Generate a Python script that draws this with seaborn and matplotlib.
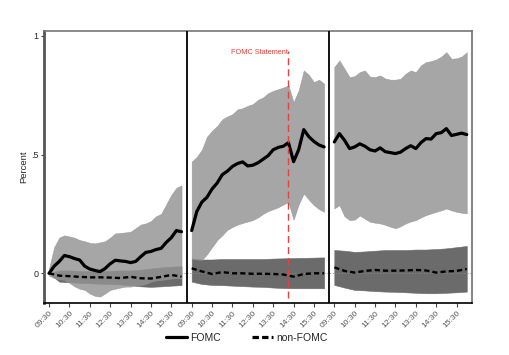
import numpy as np
import pandas as pd
import matplotlib
matplotlib.use("Agg")
import matplotlib.pyplot as plt
import seaborn as sns
from matplotlib.lines import Line2D

# ---------------- data ----------------
# hours after 09:30 within each trading day
t_q = [0, 0.25, 0.5, 0.75, 1.0, 1.25, 1.5, 1.75, 2.0, 2.25, 2.5, 2.75, 3.0, 3.25,
       3.5, 3.75, 4.0, 4.25, 4.5, 4.75, 5.0, 5.25, 5.5, 5.75, 6.0, 6.25, 6.5]
t_h = [0, 0.5, 1.0, 1.5, 2.0, 2.5, 3.0, 3.5, 4.0, 4.5, 5.0, 5.5, 6.0, 6.5]
tick_labels = ["09:30", "10:30", "11:30", "12:30", "13:30", "14:30", "15:30"]
day_offsets = [0, 7, 14]
fomc_release = 11.75  # day 2, 14:15

# FOMC days (day -1, day 0, day +1)
fomc_mean_d1 = [0.0, 0.03, 0.05, 0.075, 0.07, 0.062, 0.056, 0.03, 0.018, 0.012, 0.007, 0.02, 0.04, 0.055,
                0.052, 0.05, 0.045, 0.05, 0.07, 0.088, 0.092, 0.1, 0.105, 0.13, 0.15, 0.18, 0.175]
fomc_hi_d1 = [0.02, 0.11, 0.15, 0.16, 0.155, 0.15, 0.14, 0.135, 0.128, 0.126, 0.13, 0.135, 0.15, 0.168,
              0.17, 0.172, 0.175, 0.19, 0.205, 0.21, 0.22, 0.24, 0.25, 0.29, 0.33, 0.36, 0.37]
fomc_lo_d1 = [-0.01, -0.02, -0.025, -0.028, -0.04, -0.055, -0.065, -0.07, -0.085, -0.095, -0.098, -0.085, -0.07, -0.065,
              -0.06, -0.056, -0.056, -0.05, -0.049, -0.045, -0.035, -0.03, -0.028, -0.025, -0.022, -0.02, -0.021]

fomc_mean_d2 = [0.18, 0.26, 0.30, 0.32, 0.355, 0.38, 0.415, 0.43, 0.45, 0.462, 0.469, 0.452, 0.455, 0.465,
                0.48, 0.495, 0.52, 0.53, 0.535, 0.55, 0.47, 0.52, 0.605, 0.575, 0.555, 0.54, 0.532]
fomc_hi_d2 = [0.47, 0.49, 0.52, 0.575, 0.60, 0.62, 0.648, 0.66, 0.67, 0.69, 0.695, 0.705, 0.712, 0.73,
              0.74, 0.758, 0.768, 0.775, 0.782, 0.791, 0.72, 0.77, 0.854, 0.835, 0.805, 0.815, 0.798]
fomc_lo_d2 = [0.06, 0.058, 0.056, 0.08, 0.11, 0.14, 0.16, 0.183, 0.195, 0.205, 0.212, 0.218, 0.224, 0.235,
              0.25, 0.262, 0.27, 0.278, 0.29, 0.30, 0.225, 0.29, 0.336, 0.31, 0.287, 0.27, 0.259]

fomc_mean_d3 = [0.553, 0.588, 0.56, 0.525, 0.532, 0.545, 0.535, 0.52, 0.515, 0.528, 0.512, 0.508, 0.504, 0.51,
                0.525, 0.537, 0.525, 0.55, 0.567, 0.565, 0.588, 0.592, 0.609, 0.58, 0.585, 0.59, 0.584]
fomc_hi_d3 = [0.868, 0.896, 0.861, 0.825, 0.83, 0.847, 0.854, 0.828, 0.826, 0.833, 0.82, 0.815, 0.815, 0.819,
              0.84, 0.854, 0.847, 0.875, 0.889, 0.893, 0.9, 0.912, 0.931, 0.903, 0.905, 0.912, 0.931]
fomc_lo_d3 = [0.273, 0.287, 0.24, 0.224, 0.226, 0.243, 0.23, 0.217, 0.213, 0.21, 0.204, 0.196, 0.19, 0.198,
              0.21, 0.218, 0.224, 0.235, 0.245, 0.252, 0.259, 0.265, 0.273, 0.265, 0.259, 0.255, 0.252]

# non-FOMC days
non_mean_d1 = [0.0, -0.01, -0.012, -0.015, -0.017, -0.017, -0.018, -0.02, -0.015, -0.021, -0.022, -0.015, -0.007, -0.014]
non_hi_d1 = [0.0, 0.012, 0.012, 0.01, 0.008, 0.008, 0.01, 0.012, 0.012, 0.015, 0.02, 0.025, 0.028, 0.03]
non_lo_d1 = [0.0, -0.035, -0.038, -0.04, -0.042, -0.044, -0.045, -0.047, -0.05, -0.055, -0.057, -0.055, -0.052, -0.05]

non_mean_d2 = [0.021, 0.008, -0.003, 0.005, 0.0, 0.0, -0.002, -0.002, -0.003, -0.005, -0.014, -0.003, 0.0, 0.0]
non_hi_d2 = [0.063, 0.058, 0.058, 0.06, 0.06, 0.06, 0.06, 0.06, 0.062, 0.063, 0.064, 0.065, 0.066, 0.067]
non_lo_d2 = [-0.035, -0.045, -0.049, -0.05, -0.052, -0.054, -0.056, -0.057, -0.06, -0.062, -0.063, -0.063, -0.063, -0.063]

non_mean_d3 = [0.025, 0.01, 0.003, 0.01, 0.014, 0.011, 0.011, 0.012, 0.014, 0.012, 0.003, 0.008, 0.01, 0.018]
non_hi_d3 = [0.098, 0.095, 0.09, 0.092, 0.095, 0.098, 0.098, 0.098, 0.1, 0.1, 0.102, 0.105, 0.11, 0.115]
non_lo_d3 = [-0.049, -0.06, -0.07, -0.072, -0.075, -0.077, -0.078, -0.08, -0.082, -0.084, -0.084, -0.082, -0.08, -0.077]

# ---------------- build table ----------------
fomc_sets = [(fomc_mean_d1, fomc_lo_d1, fomc_hi_d1),
             (fomc_mean_d2, fomc_lo_d2, fomc_hi_d2),
             (fomc_mean_d3, fomc_lo_d3, fomc_hi_d3)]
non_sets = [(non_mean_d1, non_lo_d1, non_hi_d1),
            (non_mean_d2, non_lo_d2, non_hi_d2),
            (non_mean_d3, non_lo_d3, non_hi_d3)]

frames = []
for d, off in enumerate(day_offsets):
    m, lo, hi = fomc_sets[d]
    frames.append(pd.DataFrame({"x": np.array(t_q) + off, "day": d, "series": "FOMC",
                                "mean": m, "lo": lo, "hi": hi}))
    m, lo, hi = non_sets[d]
    frames.append(pd.DataFrame({"x": np.array(t_h) + off, "day": d, "series": "non-FOMC",
                                "mean": m, "lo": lo, "hi": hi}))
df = pd.concat(frames, ignore_index=True)

# ---------------- plot ----------------
sns.set_style("white")
plt.rcParams["font.family"] = ["Liberation Sans", "DejaVu Sans"]

fig = plt.figure(figsize=(5.09, 3.55), dpi=100)
ax = fig.add_axes([0.0864, 0.1465, 0.8406, 0.7662])

band_style = {"non-FOMC": dict(color="#6b6b6b", alpha=1.0, zorder=1),
              "FOMC": dict(color="#939393", alpha=0.82, zorder=2)}
for s in ["non-FOMC", "FOMC"]:
    for d in range(3):
        g = df[(df.series == s) & (df.day == d)]
        ax.fill_between(g["x"], g["lo"], g["hi"], linewidth=0.4,
                        edgecolor=band_style[s]["color"], **band_style[s])

ax.axhline(0, color="#888888", lw=0.7, ls=(0, (1, 2)), zorder=3)

sns.lineplot(data=df, x="x", y="mean", style="series", size="series", units="day",
             estimator=None, sort=False, color="black",
             dashes={"FOMC": "", "non-FOMC": (2.2, 1.3)},
             sizes={"FOMC": 2.3, "non-FOMC": 1.7}, legend=False, ax=ax, zorder=4)

# day separators
for xs in [6.75, 13.75]:
    ax.axvline(xs, color="black", lw=1.3, zorder=5)

# FOMC statement marker
ax.plot([fomc_release, fomc_release], [-0.105, 0.935], color="#e8403a", lw=1.0,
        ls=(0, (5, 3)), zorder=6)
ax.text(fomc_release - 0.05, 0.929, "FOMC Statement", ha="right", va="center",
        fontsize=5.3, color="#e8403a")

ax.set_xlim(-0.25, 20.75)
ax.set_ylim(-0.125, 1.02)

xt = [off + h for off in day_offsets for h in range(7)]
ax.set_xticks(xt)
ax.set_xticklabels(tick_labels * 3, rotation=45, ha="right", rotation_mode="anchor",
                   fontsize=6.0, color="#555555")
ax.set_yticks([0, 0.5, 1])
ax.set_yticklabels(["0", ".5", "1"], fontsize=6.5)
ax.tick_params(axis="x", length=3, width=0.8, color="#444444", pad=2, bottom=True)
ax.tick_params(axis="y", length=2.5, width=0.8, color="#444444", pad=1.5, left=True)

ax.set_xlabel("")
ax.set_ylabel("Percent", fontsize=6.8)
ax.yaxis.set_label_coords(-0.036, 0.5)

for side, (c, w) in {"left": ("#555555", 2.0), "top": ("#777777", 1.2),
                     "right": ("#888888", 1.5), "bottom": ("#000000", 1.2)}.items():
    ax.spines[side].set_visible(True)
    ax.spines[side].set_color(c)
    ax.spines[side].set_linewidth(w)

handles = [Line2D([], [], color="black", lw=2.3),
           Line2D([], [], color="black", lw=2.3, ls=(0, (2, 1)))]
fig.legend(handles, ["FOMC", "non-FOMC"], loc="center", bbox_to_anchor=(0.485, 0.048),
           ncol=2, frameon=False, fontsize=7.5, handlelength=2.0, columnspacing=3.0,
           handletextpad=0.3)

fig.savefig("out.png", dpi=100, facecolor="white")
